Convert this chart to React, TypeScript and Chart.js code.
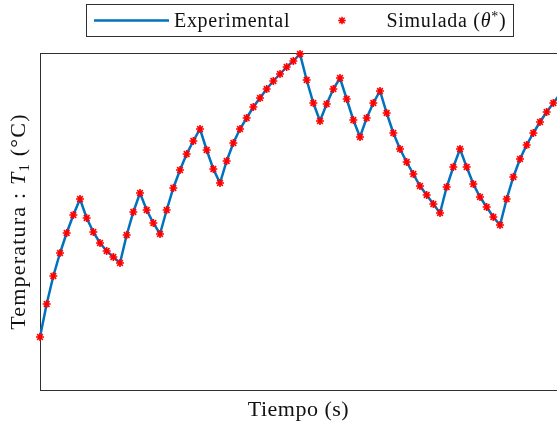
import React, { useEffect, useRef } from 'react';
import { Chart, registerables } from 'chart.js';

Chart.register(...registerables);

const tiempo = [
  0, 10, 20, 30, 40, 50, 60, 70, 80, 90,
  100, 110, 120, 130, 140, 150, 160, 170, 180, 190,
  200, 210, 220, 230, 240, 250, 260, 270, 280, 290,
  300, 310, 320, 330, 340, 350, 360, 370, 380, 390,
  400, 410, 420, 430, 440, 450, 460, 470, 480, 490,
  500, 510, 520, 530, 540, 550, 560, 570, 580, 590,
  600, 610, 620, 630, 640, 650, 660, 670, 680, 690,
  700, 710, 720, 730, 740, 750, 760, 770, 780,
];

const experimental = [
  25.2, 28.5, 31.3, 33.6, 35.6, 37.4, 39.0, 37.1, 35.7, 34.6,
  33.8, 33.2, 32.6, 35.4, 37.7, 39.6, 37.9, 36.6, 35.5, 37.9,
  40.1, 41.9, 43.5, 44.8, 46.0, 43.9, 42.0, 40.6, 42.8, 44.6,
  46.0, 47.1, 48.2, 49.1, 50.0, 50.8, 51.5, 52.2, 52.8, 53.5,
  50.9, 48.6, 46.8, 48.5, 50.0, 51.1, 49.0, 46.9, 45.2, 47.1,
  48.6, 49.8, 47.6, 45.6, 44.0, 42.7, 41.5, 40.3, 39.4, 38.5,
  37.6, 40.2, 42.2, 44.0, 42.2, 40.5, 39.2, 38.2, 37.2, 36.4,
  39.0, 41.2, 43.0, 44.4, 45.6, 46.7, 47.7, 48.6, 49.5,
];

const simulada = [
  25.2, 28.5, 31.3, 33.6, 35.6, 37.4, 39.0, 37.1, 35.7, 34.6,
  33.8, 33.2, 32.6, 35.4, 37.7, 39.6, 37.9, 36.6, 35.5, 37.9,
  40.1, 41.9, 43.5, 44.8, 46.0, 43.9, 42.0, 40.6, 42.8, 44.6,
  46.0, 47.1, 48.2, 49.1, 50.0, 50.8, 51.5, 52.2, 52.8, 53.5,
  50.9, 48.6, 46.8, 48.5, 50.0, 51.1, 49.0, 46.9, 45.2, 47.1,
  48.6, 49.8, 47.6, 45.6, 44.0, 42.7, 41.5, 40.3, 39.4, 38.5,
  37.6, 40.2, 42.2, 44.0, 42.2, 40.5, 39.2, 38.2, 37.2, 36.4,
  39.0, 41.2, 43.0, 44.4, 45.6, 46.7, 47.7, 48.6,
];

const legendLabels = ['Experimental', 'Simulada'];
const xTitle = 'Tiempo (s)';
const yTitleMain = 'Temperatura : ';

const FONT = '"Liberation Serif", "Times New Roman", serif';
const BLUE = '#0072BD';
const RED = '#FF0000';
const AXIS = '#303030';

type Run = { t: string; font: string; dy?: number };

function drawRuns(ctx: CanvasRenderingContext2D, runs: Run[], x: number, y: number, center: boolean, spacing: string) {
  (ctx as any).letterSpacing = spacing;
  const widths = runs.map((r) => {
    ctx.font = r.font;
    return ctx.measureText(r.t).width;
  });
  const total = widths.reduce((a, b) => a + b, 0);
  let cx = center ? x - total / 2 : x;
  runs.forEach((r, i) => {
    ctx.font = r.font;
    ctx.fillText(r.t, cx, y + (r.dy || 0));
    cx += widths[i];
  });
}

function drawStar(ctx: CanvasRenderingContext2D, x: number, y: number, r: number) {
  ctx.beginPath();
  ctx.moveTo(x - r, y); ctx.lineTo(x + r, y);
  ctx.moveTo(x, y - r); ctx.lineTo(x, y + r);
  const d = r * Math.SQRT1_2;
  ctx.moveTo(x - d, y - d); ctx.lineTo(x + d, y + d);
  ctx.moveTo(x - d, y + d); ctx.lineTo(x + d, y - d);
  ctx.stroke();
}

const textPlugin = {
  id: 'matlabTexts',
  afterDraw(chart: any) {
    const ctx: CanvasRenderingContext2D = chart.ctx;
    const area = chart.chartArea;
    ctx.save();
    ctx.fillStyle = '#111';
    ctx.textBaseline = 'alphabetic';
    ctx.textAlign = 'left';

    // legend box
    ctx.strokeStyle = AXIS;
    ctx.lineWidth = 1;
    ctx.strokeRect(86.5, 4.5, 427, 32);
    ctx.strokeStyle = BLUE;
    ctx.lineWidth = 2.5;
    ctx.beginPath();
    ctx.moveTo(94, 20.5);
    ctx.lineTo(169, 20.5);
    ctx.stroke();
    drawRuns(ctx, [{ t: legendLabels[0], font: `20px ${FONT}` }], 174, 27.3, false, '0.7px');
    ctx.strokeStyle = RED;
    ctx.lineWidth = 1.5;
    drawStar(ctx, 342, 20.5, 3.8);
    drawRuns(ctx, [
      { t: legendLabels[1] + ' (', font: `20px ${FONT}` },
      { t: 'θ', font: `italic 20px ${FONT}` },
      { t: '*', font: `14px ${FONT}`, dy: -6 },
      { t: ')', font: `20px ${FONT}` },
    ], 386.5, 27.3, false, '0.7px');

    // x title
    const cx = (area.left + area.right) / 2;
    drawRuns(ctx, [{ t: xTitle, font: `22px ${FONT}` }], cx, 415.5, true, '0.5px');

    // y title
    const cy = (area.top + area.bottom) / 2;
    ctx.translate(0, cy);
    ctx.rotate(-Math.PI / 2);
    drawRuns(ctx, [
      { t: yTitleMain, font: `22px ${FONT}` },
      { t: 'T', font: `italic 22px ${FONT}` },
      { t: '1', font: `15px ${FONT}`, dy: 4 },
      { t: ' (°C)', font: `22px ${FONT}` },
    ], 0, 25, true, '1.2px');
    ctx.restore();
  },
};

export default function App() {
  const ref = useRef<HTMLCanvasElement | null>(null);
  useEffect(() => {
    if (!ref.current) return;
    const hidden = { display: false };
    const axisBase = {
      display: true,
      grid: { display: false, drawTicks: false, tickLength: 0 },
      ticks: { display: false },
      border: { display: true, color: AXIS, width: 1 },
      title: { display: false },
    };
    const chart = new Chart(ref.current, {
      type: 'line',
      data: {
        datasets: [
          {
            label: 'Simulada (θ*)',
            data: simulada.map((v, i) => ({ x: tiempo[i], y: v })),
            showLine: false,
            pointStyle: 'star',
            pointRadius: 4,
            pointBorderWidth: 1.6,
            pointBorderColor: RED,
            pointBackgroundColor: RED,
            borderColor: RED,
            backgroundColor: RED,
            clip: false as any,
            order: 0,
          },
          {
            label: 'Experimental',
            data: experimental.map((v, i) => ({ x: tiempo[i], y: v })),
            borderColor: BLUE,
            borderWidth: 2.5,
            pointRadius: 0,
            tension: 0,
            fill: false,
            clip: false as any,
            order: 1,
          },
        ],
      },
      options: {
        animation: false,
        responsive: false,
        devicePixelRatio: 1,
        events: [],
        layout: { autoPadding: false, padding: { left: 40, top: 53, right: 0, bottom: 36 } },
        plugins: { legend: hidden, tooltip: { enabled: false }, title: hidden },
        scales: {
          x: { ...axisBase, type: 'linear', position: 'bottom', min: 0, max: 775.5 },
          x2: { ...axisBase, type: 'linear', position: 'top', min: 0, max: 1 },
          y: { ...axisBase, type: 'linear', position: 'left', min: 19.9, max: 53.6 },
        },
      } as any,
      plugins: [textPlugin],
    });
    return () => chart.destroy();
  }, []);
  return (
    <div style={{ position: 'absolute', left: 0, top: 0, width: 557, height: 426, background: '#fff' }}>
      <canvas ref={ref} width={557} height={426} style={{ display: 'block' }} />
    </div>
  );
}
